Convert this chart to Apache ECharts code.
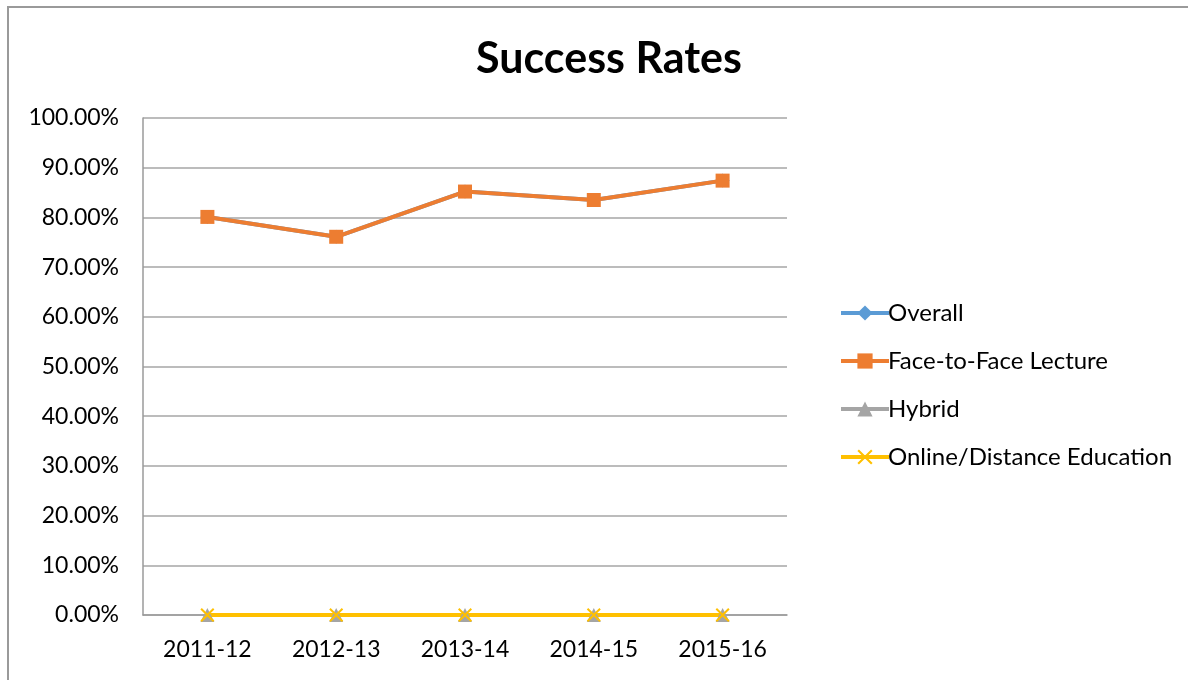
<!DOCTYPE html>
<html>
<head>
<meta charset="utf-8" />
<title>Success Rates</title>
<script src="https://cdn.jsdelivr.net/npm/echarts@6/dist/echarts.min.js"></script>
<style type="text/css">
	html, body {margin: 0; padding: 0; background: #fff;}
	#frame {position: absolute; left: 7px; top: 6px; width: 1300px; height: 800px; border-left: 2px solid #9a9a9a; border-top: 2px solid #9a9a9a;}
	#main {position: absolute; left: 0; top: 0; width: 1188px; height: 680px;}
</style>
</head>
<body>
<div id="frame"></div>
<div id="main"></div>
<script type="text/javascript">
var years = ['2011-12', '2012-13', '2013-14', '2014-15', '2015-16'];
var overall = [80.1, 76.1, 85.2, 83.5, 87.4];
var faceToFace = [80.1, 76.1, 85.2, 83.5, 87.4];
var hybrid = [0, 0, 0, 0, 0];
var online = [0, 0, 0, 0, 0];

var font = 'Lato';
// cross marker for the online series
var xMark = 'path://M0,1L1,0L5,4L9,0L10,1L6,5L10,9L9,10L5,6L1,10L0,9L4,5Z';

var myChart = echarts.init(document.getElementById('main'));
var option = {
	animation: false,
	title: {
		text: 'Success Rates',
		left: 604,
		top: 33,
		textAlign: 'center',
		textStyle: {fontFamily: font, fontSize: 43, fontWeight: 'bold', color: '#000'}
	},
	legend: {
		orient: 'vertical',
		left: 834,
		top: 296,
		itemWidth: 48,
		itemHeight: 19,
		itemGap: 24,
		lineStyle: {width: 4},
		textStyle: {fontFamily: font, fontSize: 24, color: '#000', padding: [0, 0, 0, -6]},
		data: ['Overall', 'Face-to-Face Lecture', 'Hybrid', 'Online/Distance Education']
	},
	grid: {left: 143, right: 401, top: 118, bottom: 65, containLabel: false},
	xAxis: {
		type: 'category',
		data: years,
		boundaryGap: true,
		axisLine: {show: true, lineStyle: {color: '#9a9a9a', width: 1.5}},
		axisTick: {show: false},
		axisLabel: {fontFamily: font, fontSize: 23, color: '#000', margin: 23}
	},
	yAxis: {
		type: 'value',
		min: 0,
		max: 100,
		interval: 10,
		axisLine: {show: true, lineStyle: {color: '#9a9a9a', width: 1.5}},
		axisTick: {show: false},
		splitLine: {lineStyle: {color: '#a6a6a6', width: 1.5}},
		axisLabel: {fontFamily: font, fontSize: 23, color: '#000', margin: 24,
			formatter: function (v) { return v.toFixed(2) + '%'; }}
	},
	series: [{
		name: 'Overall', type: 'line', data: overall,
		symbol: 'diamond', symbolSize: 14,
		lineStyle: {color: '#5b9bd5', width: 4},
		itemStyle: {color: '#5b9bd5'}
	}, {
		name: 'Face-to-Face Lecture', type: 'line', data: faceToFace,
		symbol: 'rect', symbolSize: 14,
		lineStyle: {color: '#ed7d31', width: 4},
		itemStyle: {color: '#ed7d31'}
	}, {
		name: 'Hybrid', type: 'line', data: hybrid,
		symbol: 'triangle', symbolSize: 14,
		lineStyle: {color: '#a5a5a5', width: 4},
		itemStyle: {color: '#a5a5a5'}
	}, {
		name: 'Online/Distance Education', type: 'line', data: online,
		symbol: xMark, symbolSize: 14,
		lineStyle: {color: '#ffc000', width: 4},
		itemStyle: {color: '#ffc000'}
	}]
};
myChart.setOption(option);
</script>
</body>
</html>
